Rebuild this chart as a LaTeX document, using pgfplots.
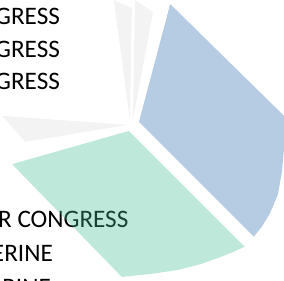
\documentclass[border=0pt]{standalone}
\usepackage{pgfplots}
\pgfplotsset{compat=1.18}
\usepackage{fontspec}
\setmainfont{Carlito}
\definecolor{sliceblue}{RGB}{44,109,175}
\definecolor{slicegreen}{RGB}{69,189,150}
\definecolor{slicegray}{RGB}{222,222,222}
\begin{document}
\begin{tikzpicture}
\begin{axis}[
  scale only axis, width=284pt, height=281pt,
  xmin=0, xmax=284, ymin=0, ymax=281, y dir=reverse,
  hide axis, clip=true,
]
% labels (drawn under the translucent slices)
\node[anchor=base east, font=\fontsize{25}{30}\selectfont] at (axis cs:63,26.7) {GRESS};
\node[anchor=base east, font=\fontsize{25}{30}\selectfont] at (axis cs:63,59) {GRESS};
\node[anchor=base east, font=\fontsize{25}{30}\selectfont] at (axis cs:63,91) {GRESS};
\node[anchor=base east, font=\fontsize{25}{30}\selectfont] at (axis cs:131,228) {R CONGRESS};
\node[anchor=base east, font=\fontsize{25}{30}\selectfont] at (axis cs:56,262) {ERINE};
\node[anchor=base east, font=\fontsize{25}{30}\selectfont] at (axis cs:54,295) {RINE};
% blue slice
\addplot[draw=none, fill=sliceblue, fill opacity=0.35] coordinates {
 (138,123) (169,6) (282,117) (282,150) (280,172) (276,195) (268,214) (260,227) (252,237)
} -- cycle;
% green slice
\addplot[draw=none, fill=slicegreen, fill opacity=0.35] coordinates {
 (128,132) (243,247) (232,252) (217,258) (200,264) (177,270) (150,274) (121,277) (12,165)
} -- cycle;
% gray slices
\addplot[draw=none, fill=slicegray, fill opacity=0.35] coordinates {
 (127,126) (2,117) (25,143)
} -- cycle;
\addplot[draw=none, fill=slicegray, fill opacity=0.35] coordinates {
 (129,121) (113,2) (131,10)
} -- cycle;
\addplot[draw=none, fill=slicegray, fill opacity=0.35] coordinates {
 (132,121) (134,2) (152,14)
} -- cycle;
\end{axis}
\end{tikzpicture}
\end{document}
